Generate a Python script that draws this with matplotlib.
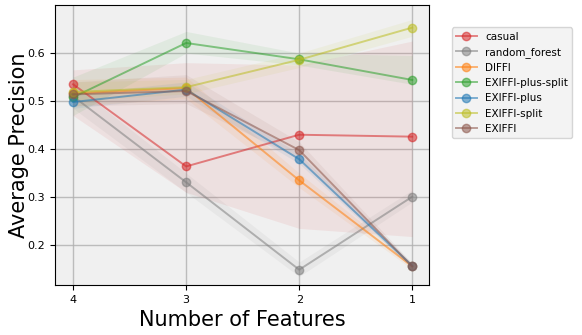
import matplotlib
matplotlib.use("Agg")
import matplotlib.pyplot as plt
import numpy as np

n_features = [4, 3, 2, 1]
names = ['casual', 'random_forest', 'DIFFI', 'EXIFFI-plus-split',
         'EXIFFI-plus', 'EXIFFI-split', 'EXIFFI']
colors = ['tab:red', 'tab:gray', 'tab:orange', 'tab:green',
          'tab:blue', 'tab:olive', 'tab:brown']

# mean average precision per method
casual = [0.535, 0.364, 0.430, 0.426]
random_forest = [0.510, 0.331, 0.149, 0.301]
diffi = [0.516, 0.527, 0.335, 0.156]
exiffi_plus_split = [0.508, 0.621, 0.587, 0.544]
exiffi_plus = [0.498, 0.524, 0.379, 0.157]
exiffi_split = [0.519, 0.529, 0.586, 0.653]
exiffi = [0.514, 0.521, 0.398, 0.156]

# lower / upper band edges
casual_lo = [0.47, 0.31, 0.235, 0.218]
casual_hi = [0.565, 0.58, 0.575, 0.625]
rf_lo = [0.485, 0.31, 0.135, 0.29]
rf_hi = [0.535, 0.35, 0.165, 0.315]
diffi_lo = [0.49, 0.505, 0.32, 0.15]
diffi_hi = [0.545, 0.55, 0.35, 0.163]
eps_lo = [0.47, 0.60, 0.575, 0.535]
eps_hi = [0.55, 0.645, 0.60, 0.595]
ep_lo = [0.485, 0.51, 0.37, 0.152]
ep_hi = [0.515, 0.54, 0.39, 0.162]
es_lo = [0.50, 0.515, 0.57, 0.635]
es_hi = [0.54, 0.545, 0.60, 0.67]
ex_lo = [0.49, 0.495, 0.38, 0.15]
ex_hi = [0.54, 0.555, 0.415, 0.162]

means = [casual, random_forest, diffi, exiffi_plus_split, exiffi_plus, exiffi_split, exiffi]
lows = [casual_lo, rf_lo, diffi_lo, eps_lo, ep_lo, es_lo, ex_lo]
highs = [casual_hi, rf_hi, diffi_hi, eps_hi, ep_hi, es_hi, ex_hi]

fig = plt.figure(figsize=(5.82, 3.35), dpi=100)
ax = fig.add_axes([0.0945, 0.149, 0.643, 0.836])
ax.set_facecolor('#f0f0f0')

for name, c, m, lo, hi in zip(names, colors, means, lows, highs):
    ax.plot(n_features, m, marker='o', color=c, alpha=0.55, markersize=6,
            linewidth=1.4, label=name)
    ax.fill_between(n_features, lo, hi, color=c, alpha=0.08, linewidth=0)

ax.set_xlim(4.16, 0.85)
ax.set_ylim(0.117, 0.70)
ax.set_xticks(n_features)
ax.set_yticks([0.2, 0.3, 0.4, 0.5, 0.6])
ax.tick_params(labelsize=8)
ax.grid(True, color='#b0b0b0', linewidth=1, alpha=0.8)
ax.set_axisbelow(True)
ax.set_xlabel('Number of Features', fontsize=15)
ax.set_ylabel('Average Precision', fontsize=15, labelpad=-1)

leg = ax.legend(loc='upper left', bbox_to_anchor=(1.06, 0.92), fontsize=7.5,
                facecolor='#f0f0f0', borderaxespad=0)

fig.savefig('out.png', dpi=100)
